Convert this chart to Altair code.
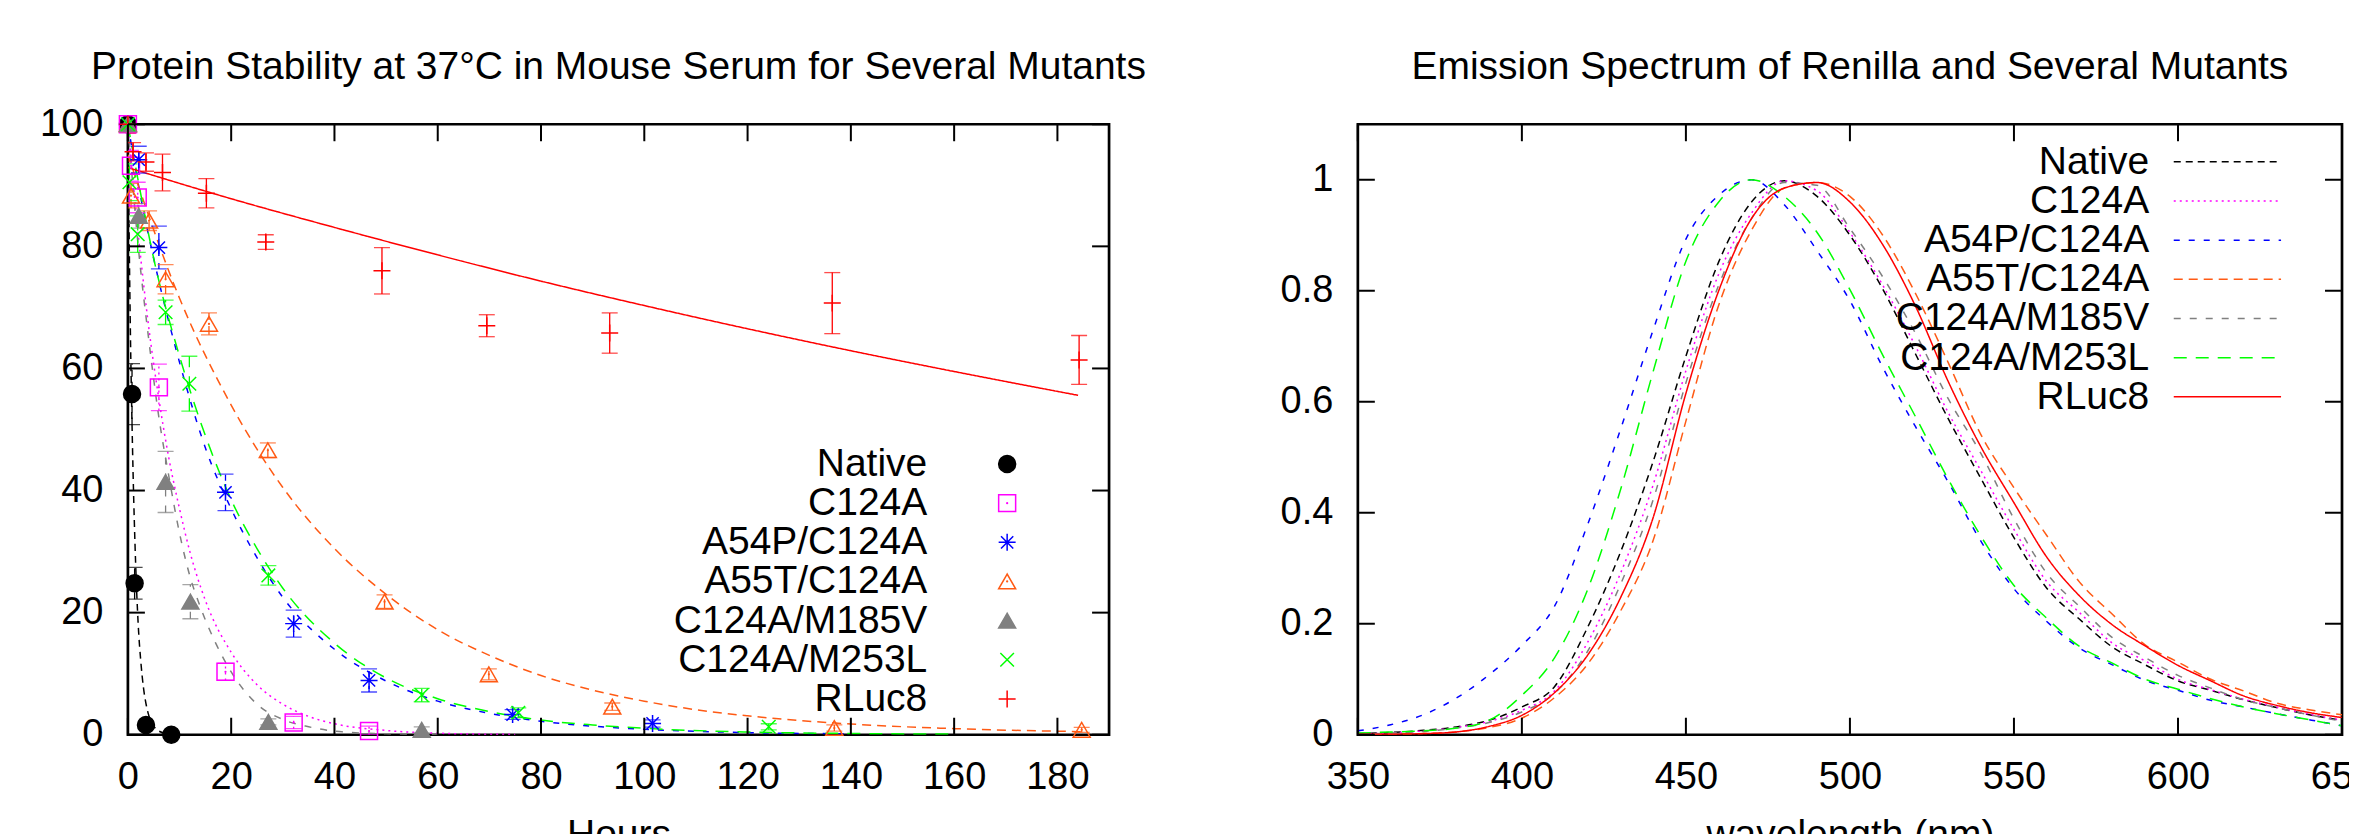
import altair as alt
import pandas as pd

FONT = "Liberation Sans"
FS = 38      # tick labels
FT = 39      # titles, legend texts

series = ["Native", "C124A", "A54P/C124A", "A55T/C124A", "C124A/M185V", "C124A/M253L", "RLuc8"]
colors = ["#000000", "#ff00ff", "#0000ff", "#ff5a14", "#808080", "#00ff00", "#ff0000"]
fills = ["#000000", "transparent", "transparent", "transparent", "#808080", "transparent", "transparent"]
shapes = ["circle", "square",
          "M0,-1L0,1M-1,0L1,0M-0.72,-0.72L0.72,0.72M-0.72,0.72L0.72,-0.72",
          "triangle-up", "triangle-up",
          "M-0.8,-0.8L0.8,0.8M-0.8,0.8L0.8,-0.8",
          "M-1,0L1,0M0,-1L0,1"]
dashes = [[7, 5], [2, 4], [6, 9], [9, 6], [7, 9], [13, 9], [1, 0]]
dotted_centres = ["C124A", "A55T/C124A"]   # open symbols drawn with a centre dot

# ---------------- left panel: stability measurements ----------------
native_h = [0, 0.8, 1.3, 3.5, 8.4]
native_v = [100, 55.8, 24.8, 1.6, 0.0]
native_e = [0.5, 5.0, 2.6, 0.5, 0.3]

c124a_h = [0, 0.6, 1.9, 6.0, 18.9, 32.1, 46.7]
c124a_v = [100, 93.2, 88.0, 56.9, 10.3, 2.0, 0.6]
c124a_e = [0.5, 2.5, 2.5, 3.8, 1.4, 1.0, 0.8]

a54p_h = [0, 2.1, 6.0, 18.9, 32.1, 46.7, 74.5, 101.6]
a54p_v = [100, 94.2, 79.8, 39.7, 18.2, 8.9, 3.3, 1.85]
a54p_e = [0.5, 2.2, 3.5, 3.0, 2.2, 1.9, 0.8, 0.6]

a55t_h = [0, 0.6, 4.1, 7.3, 15.7, 27.1, 49.7, 69.9, 93.8, 136.8, 184.7]
a55t_v = [100, 88.3, 84.2, 74.6, 67.3, 46.6, 21.8, 9.9, 4.6, 1.1, 0.8]
a55t_e = [0.5, 2.0, 1.6, 2.4, 1.8, 1.2, 1.1, 0.9, 0.6, 0.5, 0.4]

m185v_h = [0, 2.1, 7.3, 12.1, 27.2, 56.9]
m185v_v = [100, 85.0, 41.4, 21.8, 2.1, 0.8]
m185v_e = [0.5, 2.0, 5.0, 2.8, 0.5, 0.5]

m253l_h = [0, 0.3, 1.9, 7.3, 11.9, 27.2, 56.9, 75.6, 124.1]
m253l_v = [100, 90.5, 82.0, 69.2, 57.5, 26.1, 6.5, 3.6, 1.3]
m253l_e = [0.5, 3.0, 3.0, 2.0, 4.5, 1.6, 1.1, 0.8, 0.5]

rluc8_h = [0, 1.0, 3.5, 6.7, 15.2, 26.7, 49.2, 69.5, 93.3, 136.4, 184.2]
rluc8_v = [100, 95.5, 93.8, 92.1, 88.7, 80.7, 76.0, 67.0, 65.8, 70.7, 61.4]
rluc8_e = [1.5, 1.5, 1.5, 3.0, 2.4, 1.2, 3.8, 1.8, 3.3, 5.0, 4.0]

# fitted decay curves
native_fh = [0, 0.25, 0.5, 0.75, 1, 1.5, 2, 2.5, 3, 3.5, 4, 5, 6, 8]
native_fv = [100, 81, 65, 53, 43, 28, 18, 12, 7.8, 5.1, 3.3, 1.4, 0.6, 0.1]
c124a_fh = [0, 2, 4, 6, 8, 10, 12, 15, 20, 25, 30, 35, 40, 50, 60, 75]
c124a_fv = [100, 82, 67, 55, 45, 37, 30, 22, 13.5, 8.2, 5, 3, 1.8, 0.7, 0.25, 0.05]
a54p_fh = [0, 2.5, 5, 10, 15, 20, 25, 30, 40, 50, 60, 70, 80, 90, 100, 120, 140]
a54p_fv = [100, 88, 78, 61, 47, 37, 29, 22.5, 14, 8.8, 5.5, 3.5, 2.2, 1.4, 0.9, 0.35, 0.15]
a55t_fh = [0, 10, 20, 30, 40, 50, 60, 70, 80, 90, 100, 110, 120, 140, 160, 185]
a55t_fv = [95, 71.5, 54, 40.5, 30.5, 23, 17.2, 13, 9.7, 7.3, 5.5, 4.1, 3.1, 1.75, 1, 0.5]
m185v_fh = [0, 2, 4, 6, 8, 10, 12, 14, 17, 20, 25, 30, 35, 40, 50, 60]
m185v_fv = [100, 80, 65, 52, 42, 33, 26, 21, 15, 10.3, 5, 2.5, 1.3, 0.6, 0.15, 0.05]
m253l_fh = [0, 2.5, 5, 10, 15, 20, 25, 30, 40, 50, 60, 70, 80, 90, 100, 120, 140, 160]
m253l_fv = [100, 88.5, 78, 62, 49, 38.5, 30.5, 24, 15, 9.3, 5.9, 3.8, 2.4, 1.6, 1.05, 0.45, 0.2, 0.1]
rluc8_fh = [0, 20, 40, 60, 80, 100, 120, 140, 160, 184]
rluc8_fv = [92.9, 87.8, 83.1, 78.6, 74.3, 70.3, 66.5, 62.9, 59.5, 55.6]

x_ticks_left = [0, 20, 40, 60, 80, 100, 120, 140, 160, 180]
y_ticks_left = [0, 20, 40, 60, 80, 100]

# ---------------- right panel: emission spectra ----------------
wl = [350, 360, 370, 380, 390, 400, 410, 420, 430, 440, 450, 460, 470, 480, 490,
      500, 510, 520, 530, 540, 550, 560, 570, 580, 590, 600, 610, 620, 630, 640, 650]
em_native = [.002, .004, .008, .014, .026, .05, .087, .193, .328, .492, .682, .852, .96, .998, .97,
             .90, .803, .686, .569, .461, .355, .264, .208, .158, .126, .097, .080, .063, .049, .036, .026]
em_c124a = [.002, .003, .007, .013, .024, .044, .079, .166, .29, .45, .656, .83, .94, .998, .98,
            .905, .81, .70, .58, .475, .37, .276, .22, .165, .133, .1, .081, .064, .05, .037, .026]
em_a54p = [.007, .018, .036, .066, .108, .161, .232, .378, .549, .729, .893, .972, 1.0, .955, .872,
           .782, .662, .555, .455, .348, .263, .204, .156, .126, .098, .080, .062, .050, .038, .027, .016]
em_a55t = [.001, .001, .002, .005, .013, .03, .067, .127, .222, .35, .565, .774, .909, .985, .995,
           .97, .90, .795, .67, .54, .445, .359, .275, .217, .162, .131, .1, .079, .057, .045, .036]
em_m185v = [.001, .003, .006, .012, .022, .041, .075, .15, .27, .423, .634, .81, .93, .995, .99,
            .912, .825, .723, .605, .506, .389, .291, .231, .175, .139, .107, .084, .063, .049, .036, .024]
em_m253l = [.003, .005, .007, .012, .026, .071, .139, .261, .44, .654, .853, .96, 1.0, .97, .905,
            .802, .684, .573, .46, .357, .269, .21, .159, .129, .100, .082, .065, .050, .038, .027, .016]
em_rluc8 = [.001, .001, .002, .005, .015, .035, .076, .143, .246, .391, .615, .80, .93, .985, .995,
            .96, .883, .772, .636, .518, .418, .32, .25, .198, .16, .125, .097, .07, .053, .04, .031]

x_ticks_right = [350, 400, 450, 500, 550, 600, 650]
y_ticks_right = [0, 0.2, 0.4, 0.6, 0.8, 1.0]

title_left = "Protein Stability at 37°C in Mouse Serum for Several Mutants"
title_right = "Emission Spectrum of Renilla and Several Mutants"

# ---------------- tables ----------------
pts = [(native_h, native_v, native_e), (c124a_h, c124a_v, c124a_e), (a54p_h, a54p_v, a54p_e),
       (a55t_h, a55t_v, a55t_e), (m185v_h, m185v_v, m185v_e), (m253l_h, m253l_v, m253l_e),
       (rluc8_h, rluc8_v, rluc8_e)]
fits = [(native_fh, native_fv), (c124a_fh, c124a_fv), (a54p_fh, a54p_fv), (a55t_fh, a55t_fv),
        (m185v_fh, m185v_fv), (m253l_fh, m253l_fv), (rluc8_fh, rluc8_fv)]
spectra = [em_native, em_c124a, em_a54p, em_a55t, em_m185v, em_m253l, em_rluc8]

rows = []
for s, c, (hh, vv, ee) in zip(series, colors, pts):
    for h, v, e in zip(hh, vv, ee):
        rows.append({"series": s, "h": h, "v": v, "lo": max(0.0, v - e), "hi": v + e, "col": c})
df_pts = pd.DataFrame(rows)
df_dots = df_pts[df_pts["series"].isin(dotted_centres)]

spec_rows = []
for s, ys in zip(series, spectra):
    for w, e in zip(wl, ys):
        spec_rows.append({"series": s, "wl": w, "em": e})
df_spec = pd.DataFrame(spec_rows)

df_leg = pd.DataFrame({"series": series, "row": list(range(len(series)))})
df_leg_dots = df_leg[df_leg["series"].isin(dotted_centres)]

WL, WR, H = 982, 985, 611
TICK = 17
ROW = 39.2

xs_l = alt.Scale(domain=[0, 190], nice=False, zero=False)
ys_l = alt.Scale(domain=[0, 100], nice=False, zero=False)
xs_r = alt.Scale(domain=[350, 650], nice=False, zero=False)
ys_r = alt.Scale(domain=[0, 1.1], nice=False, zero=False)
shape_sc = alt.Scale(domain=series, range=shapes)
stroke_sc = alt.Scale(domain=series, range=colors)
fill_sc = alt.Scale(domain=series, range=fills)
dash_sc = alt.Scale(domain=series, range=dashes)
row_off = alt.YOffset("row:Q", scale=alt.Scale(domain=[0, len(series) - 1],
                                               range=[0, ROW * (len(series) - 1)]))


def xaxis(vals, title):
    return alt.Axis(values=vals, title=title, domain=False, ticks=False, grid=False,
                    labelFontSize=FS, labelFont=FONT, labelColor="black", labelPadding=24,
                    titleFontSize=FT, titleFont=FONT, titleFontWeight="normal", titleColor="black",
                    titlePadding=19, labelFlush=False, labelOverlap=False)


def yaxis(vals, fmt):
    return alt.Axis(values=vals, title=None, domain=False, ticks=False, grid=False, format=fmt,
                    labelFontSize=FS, labelFont=FONT, labelColor="black", labelPadding=25,
                    labelFlush=False, labelOverlap=False)


ax_xl = xaxis(x_ticks_left, "Hours")
ax_yl = yaxis(y_ticks_left, "d")
ax_xr = xaxis(x_ticks_right, "wavelength (nm)")
ax_yr = yaxis(y_ticks_right, "~g")


def frame_ticks(W, xvals, yvals, xfield, yfield, xs, ys, axx, axy):
    dx = pd.DataFrame({xfield: xvals})
    dy = pd.DataFrame({yfield: yvals})
    X = alt.X(f"{xfield}:Q", scale=xs, axis=axx)
    Y = alt.Y(f"{yfield}:Q", scale=ys, axis=axy)
    base_x = alt.Chart(dx).mark_rule(color="black", strokeWidth=2)
    base_y = alt.Chart(dy).mark_rule(color="black", strokeWidth=2)
    return [
        base_x.encode(x=X, y=alt.value(H), y2=alt.value(H - TICK)),
        base_x.encode(x=X, y=alt.value(0), y2=alt.value(TICK)),
        base_y.encode(y=Y, x=alt.value(0), x2=alt.value(TICK)),
        base_y.encode(y=Y, x=alt.value(W), x2=alt.value(W - TICK)),
    ]


def title_mark(text, W):
    return alt.Chart(pd.DataFrame({"t": [text]})).mark_text(
        font=FONT, fontSize=FT, color="black", align="center", baseline="alphabetic"
    ).encode(text="t:N", x=alt.value(W / 2), y=alt.value(-45.7))


# ---- left panel ----
Xl = alt.X("h:Q", scale=xs_l, axis=ax_xl)
layers_l = []
for s, c, d, (fh, fv) in zip(series, colors, dashes, fits):
    dfit = pd.DataFrame({"h": fh, "v": fv})
    layers_l.append(
        alt.Chart(dfit).mark_line(color=c, strokeDash=d, strokeWidth=1.5,
                                  interpolate="monotone", clip=True)
        .encode(x=Xl, y=alt.Y("v:Q", scale=ys_l, axis=ax_yl))
    )

err_base = alt.Chart(df_pts)
layers_l.append(err_base.mark_rule(strokeWidth=1.3, clip=True).encode(
    x=Xl, y=alt.Y("lo:Q", scale=ys_l, axis=ax_yl), y2="hi:Q",
    color=alt.Color("col:N", scale=None),
    strokeDash=alt.StrokeDash("series:N", scale=dash_sc, legend=None)))
layers_l.append(err_base.mark_tick(orient="horizontal", size=16, thickness=1.3, clip=True).encode(
    x=Xl, y=alt.Y("lo:Q", scale=ys_l, axis=ax_yl), color=alt.Color("col:N", scale=None)))
layers_l.append(err_base.mark_tick(orient="horizontal", size=16, thickness=1.3, clip=True).encode(
    x=Xl, y=alt.Y("hi:Q", scale=ys_l, axis=ax_yl), color=alt.Color("col:N", scale=None)))

layers_l.append(err_base.mark_point(size=289, strokeWidth=1.5, opacity=1, filled=False, fillOpacity=1).encode(
    x=Xl, y=alt.Y("v:Q", scale=ys_l, axis=ax_yl),
    shape=alt.Shape("series:N", scale=shape_sc, legend=None),
    stroke=alt.Stroke("series:N", scale=stroke_sc, legend=None),
    fill=alt.Fill("series:N", scale=fill_sc, legend=None),
))
layers_l.append(alt.Chart(df_dots).mark_circle(size=5, opacity=1).encode(
    x=Xl, y=alt.Y("v:Q", scale=ys_l, axis=ax_yl), color=alt.Color("col:N", scale=None)))
layers_l += frame_ticks(WL, x_ticks_left, y_ticks_left, "h", "v", xs_l, ys_l, ax_xl, ax_yl)

# legend (text right-aligned, symbol to the right, as in the original)
leg_l = alt.Chart(df_leg)
layers_l.append(leg_l.mark_text(font=FONT, fontSize=FT, color="black", align="right",
                                baseline="middle").encode(
    text="series:N", x=alt.value(800), y=alt.value(340), yOffset=row_off))
layers_l.append(leg_l.mark_point(size=289, strokeWidth=1.5, opacity=1, filled=False, fillOpacity=1).encode(
    x=alt.value(880), y=alt.value(340), yOffset=row_off,
    shape=alt.Shape("series:N", scale=shape_sc, legend=None),
    stroke=alt.Stroke("series:N", scale=stroke_sc, legend=None),
    fill=alt.Fill("series:N", scale=fill_sc, legend=None),
))
layers_l.append(alt.Chart(df_leg_dots).mark_circle(size=5, opacity=1).encode(
    x=alt.value(880), y=alt.value(340), yOffset=row_off,
    color=alt.Color("series:N", scale=stroke_sc, legend=None)))
layers_l.append(title_mark(title_left, WL))

left = alt.layer(*layers_l).properties(width=WL, height=H)

# ---- right panel ----
spec_line = alt.Chart(df_spec).mark_line(strokeWidth=1.5, interpolate="monotone", clip=True).encode(
    x=alt.X("wl:Q", scale=xs_r, axis=ax_xr),
    y=alt.Y("em:Q", scale=ys_r, axis=ax_yr),
    stroke=alt.Stroke("series:N", scale=stroke_sc, legend=None),
    strokeDash=alt.StrokeDash("series:N", scale=dash_sc, legend=None),
)
leg_r = alt.Chart(df_leg)
leg_r_text = leg_r.mark_text(font=FONT, fontSize=FT, color="black", align="right",
                             baseline="middle").encode(
    text="series:N", x=alt.value(792), y=alt.value(37.6), yOffset=row_off)
leg_r_line = leg_r.mark_rule(strokeWidth=1.5).encode(
    x=alt.value(816.6), x2=alt.value(924), y=alt.value(37.6), yOffset=row_off,
    stroke=alt.Stroke("series:N", scale=stroke_sc, legend=None),
    strokeDash=alt.StrokeDash("series:N", scale=dash_sc, legend=None),
)
right = alt.layer(
    spec_line,
    *frame_ticks(WR, x_ticks_right, y_ticks_right, "wl", "em", xs_r, ys_r, ax_xr, ax_yr),
    leg_r_text, leg_r_line, title_mark(title_right, WR),
).properties(width=WR, height=H)

chart = alt.hconcat(left, right, spacing=249, bounds="flush").resolve_scale(
    stroke="independent", strokeDash="independent", shape="independent", fill="independent",
)
try:
    chart = chart.properties(padding={"left": 30, "top": 37, "right": -27, "bottom": -23},
                             background="white")
except Exception:
    chart = chart.properties(padding={"left": 30, "top": 37, "right": 0, "bottom": 0},
                             background="white")
chart = chart.configure_view(stroke="black", strokeWidth=2.7)

chart.save("out.html", embed_options={"renderer": "svg", "actions": False})
